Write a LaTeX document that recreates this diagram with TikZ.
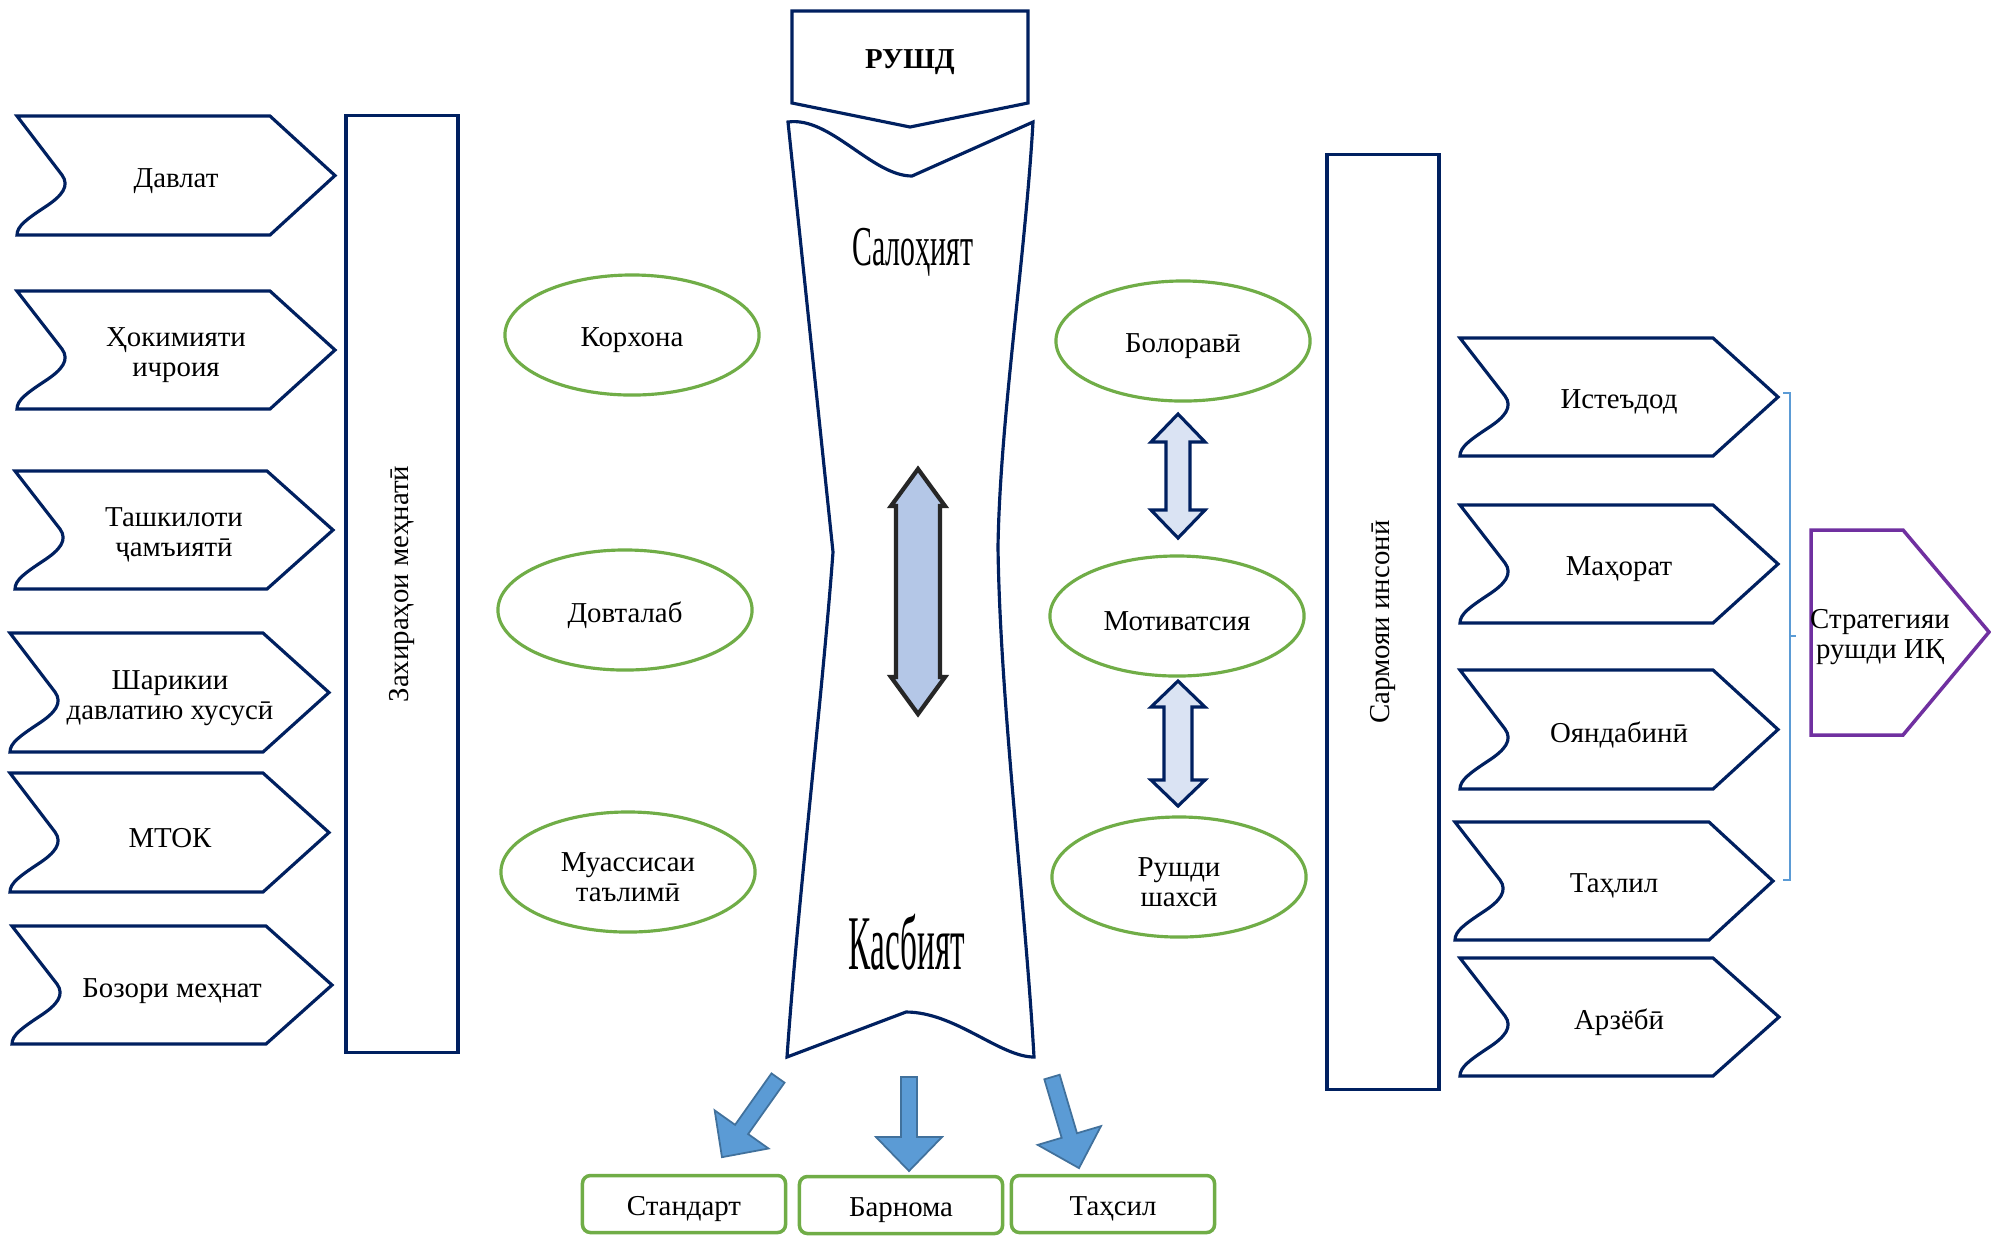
\documentclass[tikz,border=0pt]{standalone}
\usepackage{fontspec}
\usepackage{graphicx}
\setmainfont{Liberation Serif}
\usetikzlibrary{shapes.geometric}
\definecolor{navy}{HTML}{002060}
\definecolor{grn}{HTML}{70AD47}
\definecolor{lblue}{HTML}{DAE3F3}
\definecolor{mblue}{HTML}{B4C7E7}
\definecolor{bblue}{HTML}{5B9BD5}
\definecolor{bblueline}{HTML}{41719C}
\definecolor{purp}{HTML}{7030A0}
\newcommand{\chevshape}[5]{% x0, shoulder, tip, top, bottom
  \draw[navyline] (#1,#4) -- (#2,#4) -- (#3,{(#4+#5)/2}) -- (#2,#5) -- (#1,#5)
    .. controls (#1,#5-9) and (#1+10,#5-16) .. (#1+28,#5-28)
    .. controls (#1+45,#5-39) and (#1+53,#5-49) .. (#1+45,#5-60) -- cycle;}
\newcommand{\blockarr}[3]{% start, angle, length
  \begin{scope}[shift={(#1)}, rotate=#2]
    \draw[barrow] (0,-8) -- (#3-34,-8) -- (#3-34,-33) -- (#3,0) -- (#3-34,33) -- (#3-34,8) -- (0,8) -- cycle;
  \end{scope}}
\newcommand{\dblarr}[7]{% x, ytop, ybot, headlen, headhalf, shafthalf, style
  \draw[#7] (#1,#2) -- (#1+#5,#2+#4) -- (#1+#6,#2+#4) -- (#1+#6,#3-#4) -- (#1+#5,#3-#4)
    -- (#1,#3) -- (#1-#5,#3-#4) -- (#1-#6,#3-#4) -- (#1-#6,#2+#4) -- (#1-#5,#2+#4) -- cycle;}
\tikzset{
  navyline/.style={draw=navy, line width=0.9pt},
  lbl/.style={font=\fontsize{8.2}{8.7}\selectfont, align=center, inner sep=0pt},
  tlbl/.style={lbl, yshift=-0.05cm},
  ell/.style={ellipse, draw=grn, line width=0.9pt, minimum width=2.54cm, minimum height=1.2cm, lbl},
  navybox/.style={draw=navy, line width=0.9pt, lbl},
  gbox/.style={draw=grn, line width=1pt, rounded corners=0.08cm, minimum width=2.03cm, minimum height=0.57cm, lbl},
  barrow/.style={fill=bblue, draw=bblueline, line width=0.5pt},
  smallarr/.style={fill=lblue, draw=navy, line width=0.9pt},
  bigarr/.style={fill=mblue, draw=black!85, line width=1.2pt}
}
\begin{document}
\begin{tikzpicture}[x=0.01cm, y=-0.01cm]
\useasboundingbox (0,0) rectangle (1991,1235);
\fill[white] (0,0) rectangle (1991,1235);

% left chevrons
\chevshape{17}{270}{335}{116}{235}
\node[tlbl] (davlat) at (176,176) {Давлат};
\chevshape{17}{270}{335}{291}{409}
\node[tlbl] (hokimiyat) at (176,350) {Ҳокимияти\\ичроия};
\chevshape{15}{267}{333}{471}{589}
\node[tlbl] (tashkilot) at (174,530) {Ташкилоти\\ҷамъиятӣ};
\chevshape{10}{263}{329}{633}{752}
\node[tlbl] (sharikii) at (170,693) {Шарикии\\давлатию хусусӣ};
\chevshape{10}{263}{329}{773}{892}
\node[tlbl] (mtok) at (170,833) {МТОК};
\chevshape{12}{266}{332}{926}{1044}
\node[tlbl] (bozor) at (172,986) {Бозори меҳнат};

% left column
\node[navybox, rotate=90, minimum width=9.36cm, minimum height=1.12cm] (zahira) at (402,584) {Захираҳои меҳнатӣ};

% left ellipses
\node[ell] (korhona) at (632,335) {};
\node[tlbl] at (korhona.center) {Корхона};
\node[ell] (dovtalab) at (625,610) {};
\node[tlbl] at (dovtalab.center) {Довталаб};
\node[ell] (muassisa) at (628,872) {};
\node[tlbl] at (muassisa.center) {Муассисаи\\таълимӣ};

% top banner
\draw[navyline] (792,11) -- (1028,11) -- (1028,103) -- (910,127) -- (792,103) -- cycle;
\node[tlbl, font=\fontsize{8.2}{8.7}\selectfont\bfseries] (rushd) at (910,57) {РУШД};

% scroll
\draw[navyline] (788,122) .. controls (830,116) and (872,176) .. (912,176) -- (1033,122)
  .. controls (1025,260) and (1000,420) .. (998,547)
  .. controls (1000,700) and (1025,900) .. (1034,1057)
  .. controls (1000,1057) and (955,1012) .. (906,1012) -- (787,1057)
  .. controls (798,900) and (822,700) .. (833,552) -- cycle;
\node[inner sep=0pt] (salohiyat) at (913,252) {\scalebox{0.53}[1]{\fontsize{16}{16}\selectfont Салоҳият}};
\node[inner sep=0pt] (kasbiyat) at (907,942) {\scalebox{0.43}[1]{\fontsize{22}{22}\selectfont Касбият}};
\dblarr{918}{469}{714}{37}{27}{22}{bigarr}

% right ellipses and arrows
\node[ell] (bolo) at (1183,341) {};
\node[tlbl] at (bolo.center) {Болоравӣ};
\node[ell] (motiv) at (1177,616) {};
\node[tlbl] at (motiv.center) {Мотиватсия};
\node[ell] (rushdi) at (1179,877) {};
\node[tlbl] at (rushdi.center) {Рушди\\шахсӣ};
\dblarr{1178}{414}{538}{28}{27}{12}{smallarr}
\dblarr{1178}{681}{806}{26}{27}{14}{smallarr}

% right column
\node[navybox, rotate=90, minimum width=9.35cm, minimum height=1.12cm] (sarmoya) at (1383,622) {Сармояи инсонӣ};

% right chevrons
\chevshape{1460}{1713}{1778}{338}{456}
\node[tlbl] (isteddod) at (1619,397) {Истеъдод};
\chevshape{1460}{1713}{1778}{505}{623}
\node[tlbl] (mahorat) at (1619,564) {Маҳорат};
\chevshape{1460}{1713}{1778}{670}{789}
\node[tlbl] (oyanda) at (1619,730) {Ояндабинӣ};
\chevshape{1455}{1709}{1773}{822}{940}
\node[tlbl] (tahlil) at (1614,881) {Таҳлил};
\chevshape{1460}{1713}{1779}{958}{1076}
\node[tlbl] (arzyobi) at (1619,1017) {Арзёбӣ};

% bracket
\draw[bblue, line width=0.5pt] (1783,393) -- (1790,393) -- (1790,880) -- (1783,880);
\draw[bblue, line width=0.5pt] (1790,636) -- (1796,636);

% strategy
\draw[draw=purp, line width=1pt] (1811,530) -- (1903,530) -- (1989,632) -- (1903,735) -- (1811,735) -- cycle;
\node[tlbl] (strategy) at (1880,632) {Стратегияи\\рушди ИҚ};

% bottom boxes
\node[gbox] (standart) at (684,1204) {};
\node[tlbl] at (standart.center) {Стандарт};
\node[gbox] (barnoma) at (901,1205) {};
\node[tlbl] at (barnoma.center) {Барнома};
\node[gbox] (tahsil) at (1113,1204) {};
\node[tlbl] at (tahsil.center) {Таҳсил};

% bottom arrows
\coordinate (a1) at (778,1078);
\coordinate (a2) at (909,1077);
\coordinate (a3) at (1052,1077);
\blockarr{a1}{-125.3}{97}
\blockarr{a2}{-90}{94}
\blockarr{a3}{-73.5}{95}
\end{tikzpicture}
\end{document}
